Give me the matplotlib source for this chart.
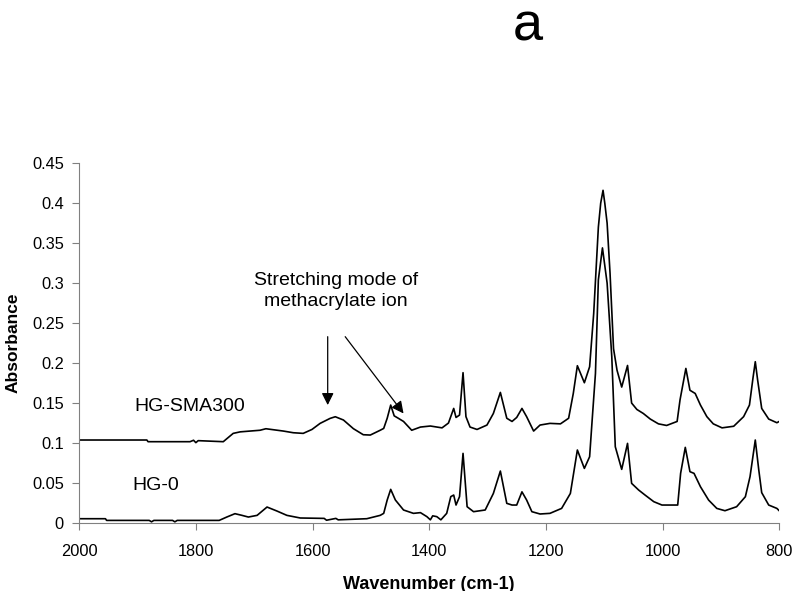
import numpy as np
import matplotlib.pyplot as plt

plt.rcParams['font.family'] = ['Liberation Sans', 'DejaVu Sans']

# HG-SMA300 spectrum (wavenumber, absorbance)
sma_wn = [2000, 1884, 1882, 1810, 1804, 1800, 1796, 1753, 1747, 1736, 1724, 1690, 1680,
          1650, 1633, 1616, 1601, 1587, 1570, 1561, 1547, 1530, 1513, 1501, 1484, 1478,
          1472, 1466, 1460, 1453, 1444, 1430, 1415, 1398, 1378, 1367, 1358, 1354, 1348,
          1342, 1337, 1330, 1318, 1301, 1290, 1278, 1267, 1258, 1250, 1241, 1233, 1221,
          1210, 1193, 1175, 1161, 1153, 1146, 1134, 1125, 1118, 1110, 1106, 1102, 1099,
          1095, 1090, 1084, 1078, 1070, 1060, 1053, 1044, 1033, 1021, 1007, 993, 975,
          970, 960, 953, 944, 935, 924, 913, 898, 878, 861, 851, 845, 841, 837, 830,
          818, 804, 800]
sma_abs = [0.1038, 0.1038, 0.1017, 0.1017, 0.1035, 0.1005, 0.103, 0.1017, 0.1054, 0.1121,
           0.114, 0.116, 0.1179, 0.115, 0.1129, 0.1121, 0.117, 0.1246, 0.1308, 0.1329,
           0.1288, 0.118, 0.1104, 0.110, 0.116, 0.1183, 0.131, 0.1475, 0.134, 0.131,
           0.127, 0.116, 0.120, 0.1213, 0.119, 0.125, 0.1433, 0.132, 0.135, 0.188, 0.133,
           0.120, 0.117, 0.1225, 0.137, 0.1633, 0.131, 0.127, 0.132, 0.1433, 0.133, 0.115,
           0.1225, 0.1246, 0.124, 0.131, 0.162, 0.1967, 0.1754, 0.1954, 0.262, 0.370,
           0.400, 0.416, 0.400, 0.375, 0.3125, 0.218, 0.191, 0.170, 0.197, 0.150, 0.142,
           0.137, 0.130, 0.124, 0.122, 0.127, 0.154, 0.1933, 0.166, 0.162, 0.1475, 0.133,
           0.124, 0.119, 0.121, 0.133, 0.1475, 0.181, 0.2017, 0.179, 0.1433, 0.130,
           0.1254, 0.127]

# HG-0 spectrum (wavenumber, absorbance)
hg0_wn = [2000, 1955, 1953, 1880, 1876, 1872, 1840, 1836, 1832, 1760, 1747, 1733, 1721,
          1710, 1695, 1678, 1661, 1644, 1621, 1580, 1576, 1560, 1556, 1507, 1484, 1478,
          1472, 1466, 1458, 1444, 1427, 1415, 1404, 1398, 1394, 1387, 1380, 1370, 1363,
          1358, 1354, 1348, 1342, 1335, 1324, 1304, 1290, 1278, 1267, 1258, 1250, 1241,
          1233, 1224, 1210, 1193, 1173, 1158, 1146, 1134, 1125, 1121, 1115, 1110, 1103,
          1095, 1087, 1081, 1070, 1060, 1053, 1041, 1030, 1015, 1001, 974, 969, 961, 953,
          946, 935, 921, 907, 893, 873, 858, 850, 841, 835, 830, 818, 804, 800]
hg0_abs = [0.0054, 0.0054, 0.0033, 0.0033, 0.0015, 0.0033, 0.0033, 0.0015, 0.0033,
           0.0033, 0.0075, 0.0117, 0.0096, 0.0075, 0.0096, 0.020, 0.015, 0.0096, 0.0063,
           0.0058, 0.0035, 0.0058, 0.004, 0.0054, 0.0096, 0.0121, 0.0288, 0.0421, 0.0288,
           0.0163, 0.0121, 0.013, 0.008, 0.004, 0.009, 0.008, 0.004, 0.0121, 0.033, 0.035,
           0.0225, 0.033, 0.0871, 0.0204, 0.0142, 0.0163, 0.037, 0.065, 0.0246, 0.0225,
           0.0225, 0.039, 0.0288, 0.0142, 0.0113, 0.0121, 0.0183, 0.037, 0.0913, 0.0683,
           0.0829, 0.125, 0.187, 0.304, 0.344, 0.300, 0.208, 0.0954, 0.0671, 0.0996,
           0.0496, 0.0413, 0.035, 0.0267, 0.0225, 0.0225, 0.0621, 0.0946, 0.0642, 0.0621,
           0.0454, 0.0287, 0.0183, 0.0154, 0.0204, 0.0329, 0.058, 0.1038, 0.0663, 0.038,
           0.0225, 0.0183, 0.0154]

x_ticks = [2000, 1800, 1600, 1400, 1200, 1000, 800]
y_ticks = [0, 0.05, 0.1, 0.15, 0.2, 0.25, 0.3, 0.35, 0.4, 0.45]
y_tick_labels = ['0', '0.05', '0.1', '0.15', '0.2', '0.25', '0.3', '0.35', '0.4', '0.45']

fig = plt.figure(figsize=(8, 5.91), dpi=100)
ax = fig.add_axes([0.099, 0.115, 0.875, 0.609])

ax.plot(sma_wn, sma_abs, color='black', lw=1.2)
ax.plot(hg0_wn, hg0_abs, color='black', lw=1.2)

ax.set_xlim(2000, 800)
ax.set_ylim(0, 0.45)
ax.set_xticks(x_ticks)
ax.set_yticks(y_ticks)
ax.set_yticklabels(y_tick_labels)
ax.tick_params(labelsize=11.8, direction='out', length=5, color='#808080', pad=6)
ax.tick_params(axis='x', pad=10)
for s in ['top', 'right']:
    ax.spines[s].set_visible(False)
for s in ['left', 'bottom']:
    ax.spines[s].set_color('#808080')

ax.set_xlabel('Wavenumber (cm-1)', fontsize=13, fontweight='bold', labelpad=12)
ax.set_ylabel('Absorbance', fontsize=12.5, fontweight='bold', labelpad=8)

ax.text(1906, 0.1455, 'HG-SMA300', fontsize=14, va='center', ha='left')
ax.text(1909, 0.0475, 'HG-0', fontsize=14, va='center', ha='left')

ax.text(1560, 0.29, 'Stretching mode of\nmethacrylate ion', fontsize=14,
        ha='center', va='center', linespacing=1.3)
head = '-|>,head_length=0.6,head_width=0.3'
ax.annotate('', xy=(1574, 0.1475), xytext=(1574, 0.233),
            arrowprops=dict(arrowstyle=head, color='black', lw=0.9, mutation_scale=12,
                            shrinkA=0, shrinkB=0))
ax.annotate('', xy=(1444, 0.137), xytext=(1544, 0.233),
            arrowprops=dict(arrowstyle=head, color='black', lw=0.9, mutation_scale=12,
                            shrinkA=0, shrinkB=0))

# panel letter, baseline kept low enough that the text box stays inside the figure
fig.text(0.66, 0.931, 'a', fontsize=39, ha='center', va='baseline')

fig.savefig('out.png', dpi=100)
